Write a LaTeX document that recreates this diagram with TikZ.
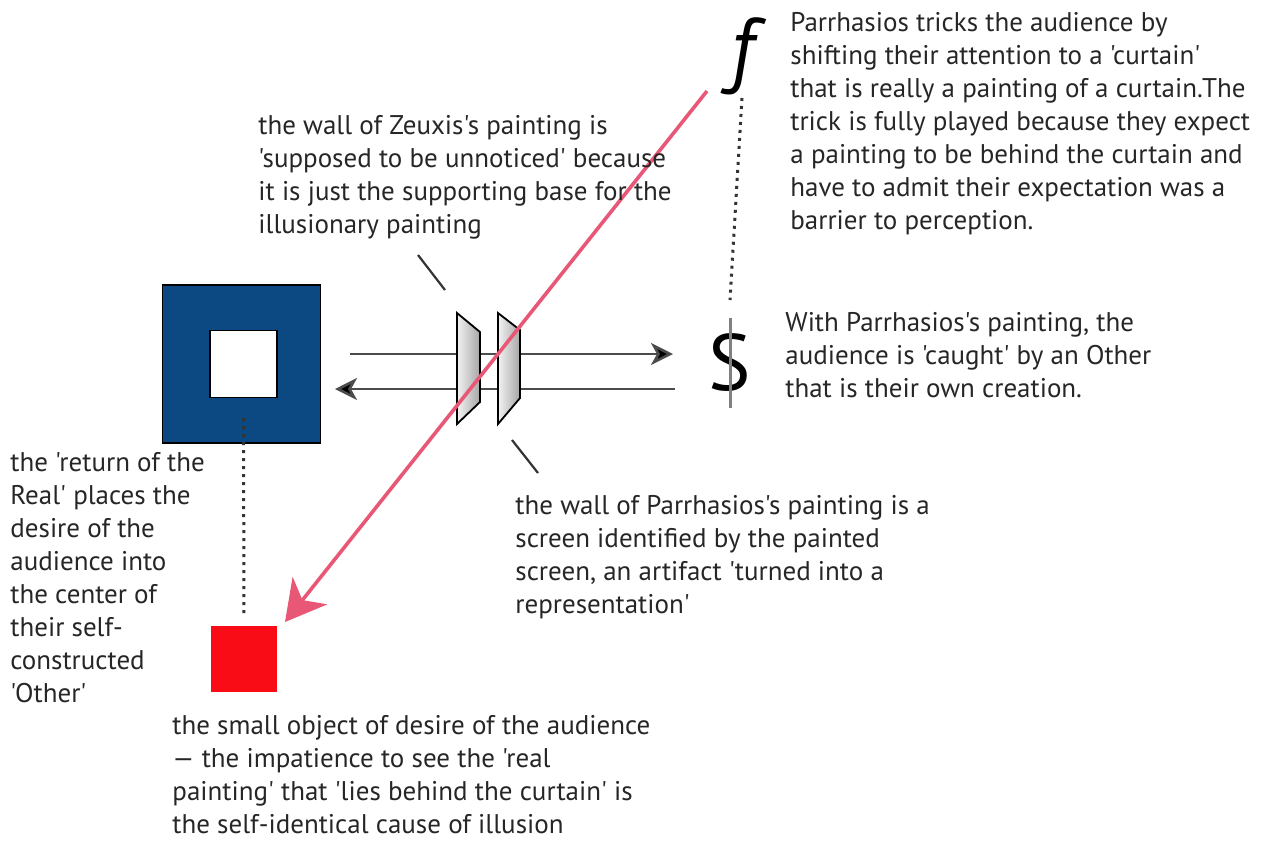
\documentclass[tikz,border=0pt]{standalone}
\usepackage{fontspec}
\setmainfont{PT Sans}[Ligatures=TeXReset]
\usetikzlibrary{arrows.meta}
\frenchspacing

\definecolor{wallblue}{RGB}{12,72,130}
\definecolor{objred}{RGB}{250,12,22}
\definecolor{gazepink}{RGB}{232,88,118}

\tikzset{
  note/.style={anchor=north west, inner sep=0pt, align=left, text=black!85,
    font=\fontsize{13.5}{16.5}\selectfont},
  screen/.style={draw=black, line width=0.9pt, left color=gray!10, right color=gray!70},
  ray/.style={draw=black!70, line width=1.3pt},
  leader/.style={draw=black!80, line width=1.1pt},
  dots/.style={draw=black!80, line width=1.5pt, dash pattern=on 1.5pt off 2.5pt},
}

\begin{document}
\begin{tikzpicture}[x=0.5pt,y=-0.5pt]
\useasboundingbox (0,0) rectangle (1265,848);

% wall of Zeuxis and the small object
\node[draw=black, line width=0.6pt, fill=wallblue, minimum size=79pt, inner sep=0pt] (wall) at (241.5,364) {};
\node[draw=black, line width=0.6pt, fill=white, minimum size=33.5pt, inner sep=0pt] (hole) at (243.5,364) {};
\node[fill=objred, minimum size=33pt, inner sep=0pt] (obj) at (244,659) {};
\draw[dots] ([yshift=-10pt]hole.south) -- ([yshift=4pt]obj.north);

% the two rays
\coordinate (r1a) at (350,354);  \coordinate (r1b) at (673,354);
\coordinate (r2a) at (675,389);  \coordinate (r2b) at (335,389);
\draw[ray,-{Stealth[length=11pt,width=11pt,inset=3pt,fill=black]}] (r1a) -- (r1b);
\draw[ray,-{Stealth[length=11pt,width=11pt,inset=3pt,fill=black]}] (r2a) -- (r2b);

% screens
\draw[screen] (457,313) -- (480,332) -- (480,402) -- (457,424) -- cycle;
\draw[screen] (498,313) -- (520,330) -- (520,398) -- (498,424) -- cycle;

\coordinate (l1a) at (418,255);  \coordinate (l1b) at (445,290);
\coordinate (l2a) at (512,440);  \coordinate (l2b) at (538,473);
\draw[leader] (l1a) -- (l1b);
\draw[leader] (l2a) -- (l2b);

% f and barred S
\node[inner sep=0pt, font=\fontsize{42}{42}\selectfont\itshape] (f) at (742,56) {f};
\node[inner sep=0pt, font=\fontsize{40}{40}\selectfont] (S) at (730,362) {S};
\draw[draw=gray, line width=1.5pt] ([yshift=22pt]S.center) -- ([yshift=-23pt]S.center);
\draw[dots] ([yshift=-21pt]f.center) -- ([yshift=31pt]S.center);

% the gaze
\coordinate (g0) at (707,91);
\coordinate (g1) at (285,622);
\draw[gazepink, line width=1.8pt, -{Stealth[length=20pt,width=22pt,inset=6pt]}] (g0) -- (g1);

% texts
\node[note] (tz) at (258,115) {the wall of Zeuxis's painting is\\
'supposed to be unnoticed' because\\
it is just the supporting base for the\\
illusionary painting};
\node[note] (tp) at (790,12) {Parrhasios tricks the audience by\\
shifting their attention to a 'curtain'\\
that is really a painting of a curtain.The\\
trick is fully played because they expect\\
a painting to be behind the curtain and\\
have to admit their expectation was a\\
barrier to perception.};
\node[note] (tc) at (785,312) {With Parrhasios's painting, the\\
audience is 'caught' by an Other\\
that is their own creation.};
\node[note] (tw) at (515,495) {the wall of Parrhasios's painting is a\\
screen identified by the painted\\
screen, an artifact 'turned into a\\
representation'};
\node[note] (tr) at (10,452) {the 'return of the\\
Real' places the\\
desire of the\\
audience into\\
the center of\\
their self-\\
constructed\\
'Other'};
\node[note] (to) at (172,715) {the small object of desire of the audience\\
— the impatience to see the 'real\\
painting' that 'lies behind the curtain' is\\
the self-identical cause of illusion};
\end{tikzpicture}
\end{document}
